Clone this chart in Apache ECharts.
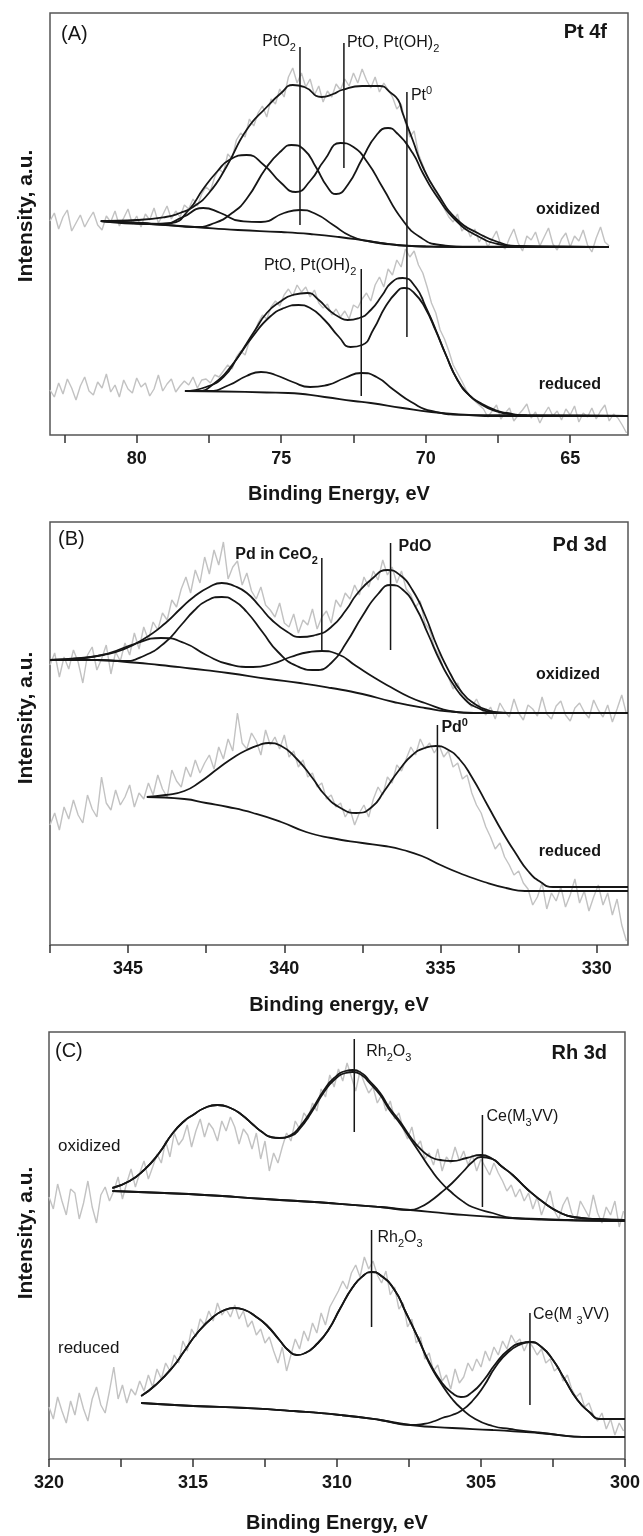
<!DOCTYPE html>
<html>
<head>
<meta charset="utf-8">
<title>XPS Pt 4f / Pd 3d / Rh 3d</title>
<script src="https://cdn.jsdelivr.net/npm/echarts@6/dist/echarts.min.js"></script>
<style>
  html, body { margin: 0; padding: 0; background: #fff; }
  #chart { width: 643px; height: 1536px; }
</style>
</head>
<body>
<div id="chart"></div>
<script>
  // ---------- panel A : Pt 4f (binding energy eV, intensity a.u.) ----------
  // raw spectra are sampled every 0.15 eV starting at the high-energy end
  const aRawStart = 83, rawStep = 0.15;
  const aOxRaw = [214, 222, 206, 218, 225, 204, 212, 220, 208, 216, 223, 210,
    205, 219, 213, 224, 209, 217, 226, 211, 219, 208, 221, 215, 227, 212, 220, 229, 216,
    224, 218, 230, 226, 236, 229, 241, 248, 244, 258, 266, 262, 281, 276, 295, 302,
    298, 316, 309, 322, 329, 318, 336, 331, 346, 338, 358, 367, 352, 362, 348, 356,
    340, 349, 333, 344, 338, 351, 345, 356, 349, 362, 352, 366, 355, 347,
    358, 343, 352, 345, 338, 326, 331, 312, 298, 304, 281, 270, 259, 252, 241, 236,
    226, 218, 213, 221, 204, 209, 198, 206,
    193, 200, 188, 196, 204, 190, 186, 197, 206, 192, 184, 199, 195, 203, 189, 198,
    207, 191, 185, 196, 202, 188, 199, 194, 205, 190, 183, 197, 208, 193, 189];
  const aRedRaw = [45, 38, 52, 41, 56, 47, 35, 49, 58, 44, 40, 53, 47, 61, 43, 50, 38, 55, 46, 42,
    57, 48, 52, 39, 46, 60, 44, 51, 56, 43, 49, 54,
    50, 58, 47, 55, 56, 52, 60, 58, 64, 70, 66, 78, 84, 80, 94, 100,
    112, 120, 116, 128, 134, 129, 140, 146, 139, 150, 143, 148, 138, 145, 132, 127,
    131, 120, 126, 118, 124, 116, 130, 127, 136, 142, 134, 150, 158, 148, 166, 160,
    175, 168, 186, 178, 184, 170, 162, 148, 132, 122, 105, 96, 84, 70, 62, 54, 45, 38, 34, 30,
    26, 18, 24, 30, 16, 22, 27, 14, 20, 25, 31, 17, 23, 12, 21, 28, 19, 24, 15, 26,
    20, 29, 13, 22, 18, 27, 16, 24, 30, 14, 21, 17, 10, 2];

  const aOxBg = [[81.24,214],[79.5,211],[78,208],[76.5,205],[75,203],[74,201],[73,198],[72,194],[71,190],[70,188.5],[69,188],[63.66,188]];
  const aOxEnv = [[81.24,214],[80,215],[79,218],[78.5,222],[78.05,228],[77.5,242],[76.9,268],[76.2,305],[75.5,328],[75,342],
    [74.6,350],[74.2,348],[73.6,338],[73.2,341],[72.9,345],[72.2,349],[71.6,349],[71.2,342],[70.95,335],[70.8,322],
    [70.45,295],[70.1,268],[69.6,242],[68.9,215],[68.2,202],[67.5,193],[66.8,189],[63.66,188]];
  const aOxPt1 = [[81.24,214],[79,210],[78,208],[77.3,212],[76.7,222],[76.2,236],[75.5,268],[75.0,284],[74.65,290],[74.2,285],
    [73.8,268],[73.4,248],[73.1,241],[72.7,250],[72.2,276],[71.7,300],[71.3,307],[71.0,302],[70.45,282],[70.1,262],
    [69.6,238],[68.9,213],[68.2,199],[67.5,191],[66.8,188.5],[63.66,188]];
  const aOxPt2 = [[81.24,214],[79.5,211],[78.8,212],[78.2,225],[77.7,246],[77.2,264],[76.8,275],[76.2,280],[75.6,270],[75.0,252],
    [74.5,243],[74.0,254],[73.5,275],[72.95,292],[72.5,288],[72.0,272],[71.5,248],[70.8,215],[70.2,198],[69.5,190],[68.5,188],[63.66,188]];
  const aOxPt3 = [[81.24,214],[79.8,212],[79.1,211],[78.4,218],[77.7,227],[77.1,222],[76.4,214],[75.7,213],[74.9,222],[74.35,225],
    [73.8,221],[73.2,210],[72.6,199],[72.0,194],[71.0,190],[70,188.5],[63.66,188]];

  const aRedBg = [[78.33,44],[77,43.5],[75.5,42.5],[74.76,42],[73.5,38],[72.5,34],[71.9,32],[70.8,27],[69.8,23],[68.5,20],[67.6,19],[63,19]];
  const aRedEnv = [[78.33,44],[77.6,48],[77.0,58],[76.5,78],[75.9,105],[75.5,122],[75.05,133],[74.6,140],[74.1,142],[73.7,135],
    [73.35,125],[73.0,118],[72.7,115],[72.3,117],[71.9,125],[71.5,140],[71.2,152],[70.8,157],[70.35,148],[70.0,128],
    [69.65,105],[69.3,80],[68.9,55],[68.5,40],[68.1,32],[67.6,25],[67.2,22],[66.5,19.5],[63,19]];
  const aRedPt1 = [[78.33,44],[77.9,44],[77.3,52],[76.7,70],[76.0,98],[75.4,118],[74.9,127],[74.4,130],[74.0,127],[73.5,115],
    [73.0,98],[72.6,88],[72.2,90],[71.8,106],[71.4,128],[71.0,143],[70.75,147],[70.4,142],[70.0,126],[69.65,104],
    [69.3,80],[68.9,55],[68.5,40],[68.1,31],[67.6,24],[67.2,21.5],[66.5,19.5],[63,19]];
  const aRedPt2 = [[78.33,44],[77.5,44],[76.8,50],[76.2,59],[75.7,63],[75.2,60],[74.6,53],[74.0,48],[73.4,50],[72.8,57],
    [72.23,62],[71.7,58],[71.1,45],[70.5,33],[69.8,24],[68.5,20],[63,19]];

  // peak marker lines: energy, top, bottom
  const aMarks = [[74.35, 388, 210], [72.83, 392, 267], [70.65, 343, 98], [72.23, 166, 39]];
  const aTicks = [82.5, 80, 77.5, 75, 72.5, 70, 67.5, 65];
  const aTickLabels = [80, 75, 70, 65];

  // ---------- panel B : Pd 3d ----------
  const bRawStart = 347.5;
  const bOxRaw = [280, 292, 268, 288, 276, 295, 283, 262, 290, 298, 275, 286, 300, 271, 293, 284,
    302, 290, 312, 296, 318, 305, 323, 315, 332, 325, 345, 338, 356,
    368, 352, 375, 362, 388, 371, 395, 380, 403, 366, 378, 384,
    360, 372, 354, 346, 358, 340, 335, 328, 342, 322, 318, 331,
    312, 325, 320, 336, 316, 328, 334, 322, 345, 338, 352, 346,
    360, 350, 368, 358, 374, 365, 385, 370, 378, 362, 374, 356,
    350, 338, 344, 322, 315, 298, 290, 276, 268, 256, 262, 248, 244, 238, 246, 236,
    230, 238, 226, 242, 234, 228, 246, 232, 225, 240, 236, 229, 248, 231, 226, 239,
    244, 230, 224, 237, 242, 233, 227, 245, 235, 228, 240, 223, 236, 250, 231];
  const bRedRaw = [120, 132, 115, 138, 126, 145, 130, 122, 150, 136, 128, 168, 142, 135, 155, 140, 148, 160, 138, 152, 146,
    162, 150, 170, 156, 148, 175, 164, 158, 178, 168, 185, 172, 182, 190,
    176, 198, 186, 206, 194, 232, 202, 196, 212, 204, 190, 215, 200, 208,
    196, 210, 188, 194, 178, 185, 168, 172, 158, 162, 146, 150, 138,
    142, 128, 136, 120, 132, 140, 128, 146, 158, 150, 168, 162, 180, 174,
    186, 198, 190, 206, 196, 202, 192, 200, 188, 194, 178, 182, 166, 170,
    152, 140, 132, 118, 108, 96, 102, 88, 80, 70, 74, 62,
    56, 40, 48, 62, 36, 52, 44, 58, 38, 50, 66, 42, 54, 34, 48, 60, 40, 52, 30, 46, 20, 4];

  const bOxBg = [[347.5,285],[346,285],[345.2,283.5],[344,280],[343,276.5],[341.8,272],[340.5,266],[339.5,262],[338.5,257],
    [337.5,251],[336.5,243],[335.5,237],[334.5,233],[333.5,232],[329,232]];
  const bOxEnv = [[347.5,285],[346.5,287],[345.8,290],[345.2,295],[344.5,306],[343.8,322],[343.3,337],[342.9,348],[342.4,358],
    [342.0,362],[341.6,359],[341.2,352],[340.8,339],[340.4,325],[339.9,313],[339.5,308],[339.0,310],[338.5,318],[338.0,336],
    [337.7,350],[337.2,366],[336.7,375],[336.3,370],[335.9,355],[335.5,330],[335.1,298],[334.7,272],[334.3,252],[333.9,241],
    [333.5,235],[333.0,232],[329,232]];
  const bOxPdO = [[347.5,285],[346,285],[345.2,284],[344.5,289],[343.8,303],[343.3,320],[342.9,334],[342.5,344],[342.0,348],
    [341.6,344],[341.2,333],[340.7,313],[340.2,293],[339.6,279],[339.0,275],[338.5,282],[338.0,303],[337.5,329],[337.0,351],
    [336.6,360],[336.2,355],[335.8,338],[335.4,311],[335.0,283],[334.6,261],[334.2,245],[333.8,237],[333.3,233],[332.5,232],[329,232]];
  const bOxPdCe = [[347.5,285],[346.4,287],[345.6,292],[344.8,301],[343.95,307],[343.2,302],[342.5,290],[341.8,281],[341.0,278],
    [340.4,281],[339.8,288],[339.2,293],[338.8,294],[338.3,291],[337.7,279],[337.1,267],[336.6,258],[336.0,248],[335.5,242],
    [334.6,233.5],[334.0,232],[329,232]];

  const bRedBg = [[344.4,148],[343.2,146],[342.5,142],[341.8,138],[341.0,132],[340.1,123],[339.3,113],[338.5,107],[337.5,102],
    [336.8,99],[336.2,95],[335.6,89],[335.0,80],[334.4,72],[333.6,63],[332.9,57],[332.3,54],[329,54]];
  const bRedEnv = [[344.4,148],[343.8,150],[343.2,154],[342.7,163],[342.1,177],[341.6,188],[341.2,195],[340.8,200],[340.5,202],
    [340.1,199],[339.6,186],[339.1,167],[338.7,150],[338.2,137],[337.7,132],[337.2,138],[336.8,154],[336.3,176],[335.9,190],
    [335.5,197],[335.15,199],[334.8,196],[334.4,186],[334.0,168],[333.5,140],[333.0,112],[332.6,92],[332.2,74],[331.8,63],
    [331.4,58],[329,58]];

  const bMarks = [[338.8, 387, 293], [336.6, 402, 295], [335.1, 220, 116]];
  const bTicks = [347.5, 345, 342.5, 340, 337.5, 335, 332.5, 330];
  const bTickLabels = [345, 340, 335, 330];

  // ---------- panel C : Rh 3d ----------
  const cRawStart = 320;
  const cOxRaw = [262, 250, 275, 258, 244, 270, 266, 240, 256, 278, 252, 236, 264, 272, 258,
    268, 282, 260, 276, 290, 272, 286, 298, 280, 292, 305, 296, 318, 302, 326, 314,
    320, 334, 312, 328, 340, 322, 336, 330, 318, 338, 328, 342, 332, 315, 330, 324,
    310, 326, 300, 318, 288, 306, 296, 312, 326, 318, 338, 330, 346, 340,
    356, 348, 370, 362, 384, 372, 390, 378, 396, 382, 368, 388, 376, 366,
    372, 356, 364, 348, 358, 340, 346, 330, 320, 332, 312, 318, 300,
    306, 294, 310, 288, 302, 296, 312, 298, 308, 294, 304, 288, 300, 292, 284, 296,
    286, 278, 268, 274, 262, 270, 258, 266, 250, 262, 244, 256, 268, 248, 240, 254,
    262, 246, 238, 258, 250, 242, 264, 246, 236, 252, 244, 258, 232, 248];
  const cRedRaw = [52, 40, 62, 48, 36, 58, 44, 66, 50, 38, 60, 72, 54, 46, 68, 92, 60, 74, 56, 70,
    64, 78, 68, 84, 72, 90, 80, 96, 88, 104, 96, 118, 108, 130, 122, 140,
    134, 148, 138, 156, 144, 150, 142, 154, 140, 148, 132, 138, 124, 130, 116, 122,
    108, 96, 112, 88, 104, 120, 110, 128, 118, 136, 126, 146, 134, 152, 160,
    168, 178, 170, 186, 194, 182, 202, 190, 198, 184, 176, 188, 164, 172, 150,
    156, 132, 140, 116, 122, 100, 106, 88, 94, 78, 84, 70, 90, 76,
    82, 96, 88, 100, 92, 108, 98, 112, 104, 118, 110, 124, 116, 120, 108,
    118, 112, 104, 110, 96, 100, 88, 92, 78, 84, 70, 62, 66, 52, 56, 44, 38, 46, 30, 40, 24, 36, 28];

  const cOxBg = [[317.8,268],[316,266],[314.6,264],[312.5,260],[310.3,256],[308.5,252],[307.45,249],[306,245],[304.6,242],
    [303,240],[301.8,239],[300,238]];
  const cOxEnv = [[317.8,271],[317.2,278],[316.7,289],[316.2,305],[315.7,326],[315.3,338],[315.0,344],[314.6,351],[314.15,354],
    [313.7,351],[313.3,344],[312.9,334],[312.6,327],[312.3,322],[312.0,321],[311.6,324],[311.3,332],[310.9,348],[310.45,369],
    [310.1,381],[309.7,388],[309.45,389],[309.1,385],[308.9,379],[308.5,366],[308.2,352],[307.8,337],[307.45,322],[307.1,310],
    [306.75,302],[306.4,299],[306.0,298],[305.5,301],[305.0,304],[304.6,300],[304.3,293],[303.9,284],[303.4,270],[302.8,256],
    [302.3,247],[301.8,242],[301.0,240],[300,239]];
  const cOxRh = [[317.8,271],[317.2,278],[316.7,289],[316.2,305],[315.7,326],[315.3,338],[315.0,344],[314.6,351],[314.15,354],
    [313.7,351],[313.3,344],[312.9,334],[312.6,327],[312.3,322],[312.0,321],[311.6,323],[311.3,330],[310.9,346],[310.45,367],
    [310.1,379],[309.7,386],[309.45,387],[309.1,383],[308.9,377],[308.5,364],[308.2,350],[307.8,335],[307.45,320],[307.1,305],
    [306.75,290],[306.4,277],[306.0,266],[305.6,257],[305.3,252],[304.6,246],[303.9,241],[303,239.5],[301.8,238.5],[300,238]];
  const cOxCe = [[317.8,268],[316,266],[314.6,264],[312.5,260],[310.3,256],[308.5,252],[307.45,249],[307.1,252],[306.75,258],
    [306.4,266],[306.0,276],[305.6,288],[305.3,297],[305.0,302],[304.6,300],[304.3,293],[303.9,284],[303.4,270],[302.8,256],
    [302.3,247],[301.8,242],[301.0,240],[300,239]];

  const cRedBg = [[316.8,56],[315,53],[313.15,51],[311.5,48],[309.9,44],[308.5,39],[307.45,34],[306,31],[304.6,29],[303,26],
    [301.2,22],[300,22]];
  const cRedEnv = [[316.8,63],[316.3,74],[315.7,92],[315.3,108],[314.85,126],[314.3,142],[313.9,149],[313.57,151],[313.2,149],
    [312.8,142],[312.45,134],[312.0,119],[311.7,109],[311.4,104],[311.1,106],[310.7,115],[310.3,129],[309.9,150],[309.45,172],
    [309.1,183],[308.8,187],[308.5,184],[308.0,169],[307.6,146],[307.2,122],[306.8,97],[306.35,76],[306.0,66],[305.7,62],
    [305.3,67],[304.9,79],[304.5,95],[304.05,109],[303.6,116],[303.3,117],[302.9,112],[302.5,99],[302.1,80],[301.65,59],
    [301.2,46],[300.9,40],[300,40]];
  const cRedRh = [[316.8,63],[316.3,74],[315.7,92],[315.3,108],[314.85,126],[314.3,142],[313.9,149],[313.57,151],[313.2,149],
    [312.8,142],[312.45,134],[312.0,119],[311.7,109],[311.4,104],[311.1,106],[310.7,115],[310.3,129],[309.9,150],[309.45,172],
    [309.1,183],[308.8,187],[308.5,184],[308.0,169],[307.6,146],[307.2,122],[306.8,96],[306.35,74],[306.0,60],[305.7,51],
    [305.2,40],[304.6,33],[304.0,30],[303,26.5],[301.2,22],[300,22]];
  const cRedCe = [[316.8,56],[315,53],[313.15,51],[311.5,48],[309.9,44],[308.5,39],[307.45,34],[307.0,35],[306.6,38],[306.35,41],
    [306.0,44],[305.7,48],[305.3,58],[304.9,73],[304.5,92],[304.05,107],[303.6,115],[303.3,117],[302.9,112],[302.5,99],
    [302.1,80],[301.65,59],[301.2,46],[300.9,40],[300,40]];

  const cMarks = [[309.4, 420, 327], [304.95, 344, 252], [308.8, 229, 132], [303.3, 146, 54]];
  const cTicks = [320, 317.5, 315, 312.5, 310, 307.5, 305, 302.5, 300];
  const cTickLabels = [320, 315, 310, 305, 300];

  // ---------- styling ----------
  const FONT = '"Liberation Sans", Arial, Helvetica, sans-serif';
  const INK = '#161616';
  const GRAY = '#c2c2c2';
  const FRAME = '#555';

  function rawPts(start, values) {
    return values.map((v, i) => [+(start - rawStep * i).toFixed(2), v]);
  }

  const series = [];
  function addLine(data, g, color, width, smooth, z) {
    series.push({
      type: 'line', xAxisIndex: g, yAxisIndex: g, data: data,
      symbol: 'none', showSymbol: false, smooth: smooth,
      z: z, silent: true, lineStyle: { color: color, width: width }
    });
  }
  function addFit(data, g) { addLine(data, g, INK, 1.8, 0.55, 3); }
  function addMarks(marks, g) {
    marks.forEach(m => addLine([[m[0], m[1]], [m[0], m[2]]], g, INK, 1.5, false, 4));
  }

  addLine(rawPts(aRawStart, aOxRaw), 0, GRAY, 1.4, false, 1);
  addLine(rawPts(aRawStart, aRedRaw), 0, GRAY, 1.4, false, 1);
  [aOxBg, aOxEnv, aOxPt1, aOxPt2, aOxPt3, aRedBg, aRedEnv, aRedPt1, aRedPt2].forEach(d => addFit(d, 0));
  addMarks(aMarks, 0);

  addLine(rawPts(bRawStart, bOxRaw), 1, GRAY, 1.4, false, 1);
  addLine(rawPts(bRawStart, bRedRaw), 1, GRAY, 1.4, false, 1);
  [bOxBg, bOxEnv, bOxPdO, bOxPdCe, bRedBg, bRedEnv].forEach(d => addFit(d, 1));
  addMarks(bMarks, 1);

  addLine(rawPts(cRawStart, cOxRaw), 2, GRAY, 1.4, false, 1);
  addLine(rawPts(cRawStart, cRedRaw), 2, GRAY, 1.4, false, 1);
  [cOxBg, cOxEnv, cOxRh, cOxCe, cRedBg, cRedEnv, cRedRh, cRedCe].forEach(d => addFit(d, 2));
  addMarks(cMarks, 2);

  function xAxis(g, min, max, ticks, labels, name, gap) {
    return {
      type: 'value', gridIndex: g, min: min, max: max, inverse: true,
      name: name, nameLocation: 'middle', nameGap: gap,
      nameTextStyle: { fontFamily: FONT, fontSize: 20, fontWeight: 'bold', color: INK },
      axisLine: { show: false },
      splitLine: { show: false },
      axisTick: { show: true, inside: false, length: 8, customValues: ticks,
        lineStyle: { color: '#333', width: 1.5 } },
      axisLabel: { show: true, customValues: labels, margin: 15, showMinLabel: true, showMaxLabel: true,
        fontFamily: FONT, fontSize: 18, fontWeight: 'bold', color: INK }
    };
  }
  function yAxis(g, max) {
    return { type: 'value', gridIndex: g, min: 0, max: max, show: false };
  }

  const chart = echarts.init(document.getElementById('chart'), null, { renderer: 'canvas' });
  chart.setOption({
    animation: false,
    backgroundColor: '#fff',
    grid: [
      { left: 50, top: 13, width: 578, height: 422, show: true, borderColor: FRAME, borderWidth: 1.5 },
      { left: 50, top: 522, width: 578, height: 423, show: true, borderColor: FRAME, borderWidth: 1.5 },
      { left: 49, top: 1032, width: 579, height: 427, show: true, borderColor: FRAME, borderWidth: 1.5 }
    ],
    xAxis: [
      xAxis(0, 63, 83, aTicks, aTickLabels, 'Binding Energy, eV', 49),
      xAxis(1, 329, 347.5, bTicks, bTickLabels, 'Binding energy, eV', 50),
      xAxis(2, 300, 320, cTicks, cTickLabels, 'Binding Energy, eV', 54)
    ],
    yAxis: [yAxis(0, 422), yAxis(1, 423), yAxis(2, 427)],
    series: series
  });

  // ---------- text annotations ----------
  function rich(size, weight) {
    const small = Math.round(size * 0.68);
    return {
      m: { fontFamily: FONT, fontSize: size, fontWeight: weight, lineHeight: size + 6, verticalAlign: 'middle', fill: INK },
      s: { fontFamily: FONT, fontSize: small, fontWeight: weight, lineHeight: small + 3, verticalAlign: 'bottom', fill: INK },
      p: { fontFamily: FONT, fontSize: small, fontWeight: weight, lineHeight: small + 2, verticalAlign: 'top', fill: INK }
    };
  }
  // peak labels: grid, energy, intensity, text, side, dx, dy, size, weight
  const peakLabels = [
    [0, 74.35, 388, '{m|PtO}{s|2}', 'right', -4, -5, 16, 'normal'],
    [0, 72.83, 392, '{m|PtO, Pt(OH)}{s|2}', 'left', 3, 0, 16, 'normal'],
    [0, 70.65, 343, '{m|Pt}{p|0}', 'left', 4, 4, 16, 'normal'],
    [0, 72.23, 166, '{m|PtO, Pt(OH)}{s|2}', 'right', -5, -3, 16, 'normal'],
    [1, 338.8, 387, '{m|Pd in CeO}{s|2}', 'right', -4, -3, 16, 'bold'],
    [1, 336.6, 402, '{m|PdO}', 'left', 8, 4, 16, 'bold'],
    [1, 335.1, 220, '{m|Pd}{p|0}', 'left', 4, 3, 16, 'bold'],
    [2, 309.4, 420, '{m|Rh}{s|2}{m|O}{s|3}', 'left', 12, 13, 16, 'normal'],
    [2, 304.95, 344, '{m|Ce(M}{s|3}{m|VV)}', 'left', 4, 2, 16, 'normal'],
    [2, 308.8, 229, '{m|Rh}{s|2}{m|O}{s|3}', 'left', 6, 8, 16, 'normal'],
    [2, 303.3, 146, '{m|Ce(M }{s|3}{m|VV)}', 'left', 3, 2, 16, 'normal']
  ];
  const graphics = peakLabels.map(l => {
    const p = chart.convertToPixel({ gridIndex: l[0] }, [l[1], l[2]]);
    return {
      type: 'text', x: p[0] + l[5], y: p[1] + l[6], silent: true, z: 10,
      style: { text: l[3], rich: rich(l[7], l[8]), align: l[4], verticalAlign: 'middle', fill: INK }
    };
  });

  function txt(x, y, text, size, weight, align, rotation) {
    return {
      type: 'text', x: x, y: y, rotation: rotation || 0, silent: true, z: 10,
      style: { text: text, fontFamily: FONT, fontSize: size, fontWeight: weight, fill: INK,
        align: align, verticalAlign: 'middle' }
    };
  }
  graphics.push(
    txt(61, 34, '(A)', 20, 'normal', 'left'),
    txt(607, 32, 'Pt 4f', 20, 'bold', 'right'),
    txt(600, 210, 'oxidized', 16, 'bold', 'right'),
    txt(601, 385, 'reduced', 16, 'bold', 'right'),
    txt(58, 539, '(B)', 20, 'normal', 'left'),
    txt(607, 545, 'Pd 3d', 20, 'bold', 'right'),
    txt(600, 675, 'oxidized', 16, 'bold', 'right'),
    txt(601, 852, 'reduced', 16, 'bold', 'right'),
    txt(55, 1051, '(C)', 20, 'normal', 'left'),
    txt(607, 1053, 'Rh 3d', 20, 'bold', 'right'),
    txt(58, 1146, 'oxidized', 17, 'normal', 'left'),
    txt(58, 1348, 'reduced', 17, 'normal', 'left'),
    txt(26, 216, 'Intensity, a.u.', 21, 'bold', 'center', Math.PI / 2),
    txt(26, 718, 'Intensity, a.u.', 21, 'bold', 'center', Math.PI / 2),
    txt(26, 1233, 'Intensity, a.u.', 21, 'bold', 'center', Math.PI / 2)
  );
  chart.setOption({ graphic: graphics });
</script>
</body>
</html>
